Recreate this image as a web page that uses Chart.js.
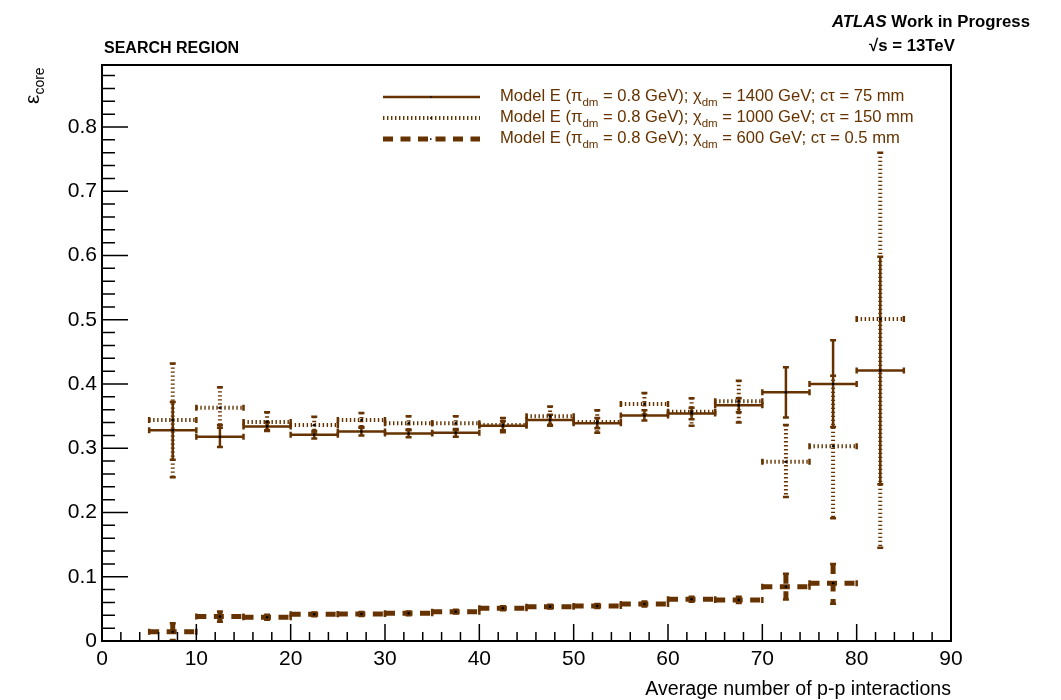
<!DOCTYPE html>
<html>
<head>
<meta charset="utf-8">
<script src="https://cdn.jsdelivr.net/npm/chart.js@4.4.0/dist/chart.umd.min.js"></script>
<style>
  body { margin: 0; background: #fff; font-family: "Liberation Sans", Arial, sans-serif; }
  #wrap { position: relative; width: 1061px; height: 700px; }
  #chart { position: absolute; left: 0; top: 0; }
  .txt { position: absolute; white-space: nowrap; color: #000; line-height: 1; }
  .leg { position: absolute; white-space: nowrap; color: #663300; font-size: 16.6px; line-height: 1; }
  .leg sub { font-size: 11.5px; vertical-align: -5px; line-height: 0; }
</style>
</head>
<body>
<div id="wrap">
  <canvas id="chart" width="1061" height="700"></canvas>

  <div class="txt" style="left:104px; top:40px; font-size:16px; font-weight:bold;">SEARCH REGION</div>
  <div class="txt" style="left:832px; top:14px; font-size:16.8px; font-weight:bold;"><i>ATLAS</i> Work in Progress</div>
  <div class="txt" style="left:869px; top:38px; font-size:16.8px; font-weight:bold;">√s = 13TeV</div>

  <div class="txt" style="left:21px; top:104px; font-size:21px; transform:rotate(-90deg); transform-origin:0 0;">ε<sub style="font-size:14px; vertical-align:-5px;">core</sub></div>
  <div class="txt" style="right:110px; top:679px; font-size:19.6px;">Average number of p-p interactions</div>

  <div class="leg" style="left:500px; top:88px;">Model E (π<sub>dm</sub> = 0.8 GeV); χ<sub>dm</sub> = 1400 GeV; cτ = 75 mm</div>
  <div class="leg" style="left:500px; top:109px;">Model E (π<sub>dm</sub> = 0.8 GeV); χ<sub>dm</sub> = 1000 GeV; cτ = 150 mm</div>
  <div class="leg" style="left:500px; top:130px;">Model E (π<sub>dm</sub> = 0.8 GeV); χ<sub>dm</sub> = 600 GeV; cτ = 0.5 mm</div>
</div>

<script>
// bins of average pile-up, width 5
const binCenters = [7.5, 12.5, 17.5, 22.5, 27.5, 32.5, 37.5, 42.5, 47.5, 52.5, 57.5, 62.5, 67.5, 72.5, 77.5, 82.5];
const binHalfWidth = 2.5;

// chi_dm = 1400 GeV, ctau = 75 mm
const eff1400 = [0.328, 0.318, 0.334, 0.321, 0.326, 0.323, 0.324, 0.335, 0.344, 0.339, 0.351, 0.354, 0.367, 0.387, 0.400, 0.421];
const err1400Up = [0.044, 0.018, 0.006, 0.006, 0.006, 0.006, 0.006, 0.007, 0.008, 0.008, 0.008, 0.009, 0.011, 0.039, 0.068, 0.177];
const err1400Dn = [0.046, 0.016, 0.006, 0.006, 0.006, 0.006, 0.006, 0.007, 0.008, 0.008, 0.008, 0.009, 0.011, 0.039, 0.067, 0.177];

// chi_dm = 1000 GeV, ctau = 150 mm
const eff1000 = [0.344, 0.363, 0.341, 0.336, 0.344, 0.339, 0.339, 0.336, 0.350, 0.341, 0.369, 0.357, 0.373, 0.279, 0.303, 0.501];
const err1000Up = [0.088, 0.032, 0.015, 0.013, 0.011, 0.011, 0.011, 0.011, 0.015, 0.018, 0.017, 0.021, 0.032, 0.057, 0.110, 0.259];
const err1000Dn = [0.089, 0.031, 0.014, 0.013, 0.011, 0.011, 0.011, 0.011, 0.015, 0.017, 0.017, 0.022, 0.033, 0.055, 0.112, 0.356];

// chi_dm = 600 GeV, ctau = 0.5 mm (no entry in last bin)
const eff600 = [0.0145, 0.038, 0.037, 0.0415, 0.042, 0.043, 0.0457, 0.051, 0.0535, 0.0545, 0.0576, 0.065, 0.064, 0.0845, 0.090];
const err600Up = [0.013, 0.008, 0.004, 0.003, 0.003, 0.003, 0.003, 0.003, 0.003, 0.003, 0.004, 0.004, 0.005, 0.020, 0.030];
const err600Dn = [0.013, 0.008, 0.004, 0.003, 0.003, 0.003, 0.003, 0.003, 0.003, 0.003, 0.004, 0.004, 0.005, 0.020, 0.032];

const xTicks = [0, 10, 20, 30, 40, 50, 60, 70, 80, 90];
const yTicks = [0, 0.1, 0.2, 0.3, 0.4, 0.5, 0.6, 0.7, 0.8];

const brown = '#663300';
const solidDash = [], dotDash = [1.4, 2.6], longDash = [10, 7.5];

function makeSet(label, vals, up, dn, dash, width) {
  return {
    label: label,
    data: vals.map((v, i) => ({ x: binCenters[i], y: v, up: up[i], dn: dn[i] })),
    showLine: false,
    pointRadius: 1.3,
    pointBackgroundColor: '#000',
    pointBorderWidth: 0,
    errDash: dash,
    errWidth: width
  };
}

// error crosses with end caps, ROOT style
const errorBars = {
  id: 'errorBars',
  beforeDatasetsDraw(chart) {
    const ctx = chart.ctx, xs = chart.scales.x, ys = chart.scales.y, a = chart.chartArea;
    ctx.save();
    ctx.beginPath();
    ctx.rect(a.left, a.top, a.right - a.left, a.bottom - a.top);
    ctx.clip();
    ctx.strokeStyle = brown;
    chart.data.datasets.forEach(ds => {
      ds.data.forEach(p => {
        const px = xs.getPixelForValue(p.x), py = ys.getPixelForValue(p.y);
        const x0 = xs.getPixelForValue(p.x - binHalfWidth), x1 = xs.getPixelForValue(p.x + binHalfWidth);
        const yTop = ys.getPixelForValue(p.y + p.up), yBot = ys.getPixelForValue(p.y - p.dn);
        ctx.lineWidth = ds.errWidth;
        ctx.lineCap = 'butt';
        ctx.setLineDash(ds.errDash);
        ctx.beginPath();
        ctx.moveTo(x0, py); ctx.lineTo(x1, py);
        ctx.moveTo(px, yTop); ctx.lineTo(px, yBot);
        ctx.stroke();
        // caps
        ctx.setLineDash([]);
        ctx.lineWidth = Math.min(ds.errWidth, 2.5);
        const c = 3;
        ctx.beginPath();
        ctx.moveTo(x0, py - c); ctx.lineTo(x0, py + c);
        ctx.moveTo(x1, py - c); ctx.lineTo(x1, py + c);
        ctx.moveTo(px - c, yTop); ctx.lineTo(px + c, yTop);
        ctx.moveTo(px - c, yBot); ctx.lineTo(px + c, yBot);
        ctx.stroke();
      });
    });
    ctx.restore();
  },
  afterDraw(chart) {
    const ctx = chart.ctx, xs = chart.scales.x, ys = chart.scales.y, a = chart.chartArea;
    ctx.save();
    // frame
    ctx.strokeStyle = '#000';
    ctx.lineWidth = 2;
    ctx.setLineDash([]);
    ctx.strokeRect(a.left, a.top, a.right - a.left, a.bottom - a.top);
    // inward ticks
    ctx.lineWidth = 1.5;
    ctx.beginPath();
    for (let v = 0; v <= 90.001; v += 2) {
      const px = xs.getPixelForValue(v);
      const len = Math.abs(v % 10) < 0.001 ? 17 : 9;
      ctx.moveTo(px, a.bottom); ctx.lineTo(px, a.bottom - len);
    }
    for (let v = 0; v <= ys.max + 1e-6; v += 0.02) {
      const py = ys.getPixelForValue(v);
      const major = Math.abs(Math.round(v * 50) % 5) === 0;
      ctx.moveTo(a.left, py); ctx.lineTo(a.left + (major ? 26 : 13), py);
    }
    ctx.stroke();

    // legend samples
    const leg = [
      { y: 97, dash: solidDash, w: 2.5 },
      { y: 118, dash: dotDash, w: 4 },
      { y: 139, dash: longDash, w: 5 }
    ];
    ctx.strokeStyle = brown;
    leg.forEach(l => {
      ctx.lineWidth = l.w;
      ctx.setLineDash(l.dash);
      ctx.beginPath();
      ctx.moveTo(383, l.y); ctx.lineTo(480, l.y);
      ctx.stroke();
      ctx.fillStyle = '#000';
      ctx.fillRect(430, l.y - 0.7, 1.5, 1.5);
    });
    ctx.restore();
  }
};

new Chart(document.getElementById('chart'), {
  type: 'scatter',
  data: {
    datasets: [
      makeSet('1400 GeV; 75 mm', eff1400, err1400Up, err1400Dn, solidDash, 2.5),
      makeSet('1000 GeV; 150 mm', eff1000, err1000Up, err1000Dn, dotDash, 4),
      makeSet('600 GeV; 0.5 mm', eff600, err600Up, err600Dn, longDash, 5)
    ]
  },
  options: {
    responsive: false,
    animation: false,
    layout: { padding: { left: 42, right: 110, top: 65, bottom: 0 } },
    plugins: { legend: { display: false }, tooltip: { enabled: false } },
    scales: {
      x: {
        type: 'linear',
        min: 0, max: 90,
        grid: { display: false, drawTicks: false },
        border: { display: false },
        afterBuildTicks: s => { s.ticks = xTicks.map(v => ({ value: v })); },
        afterFit: s => { s.height = 59; },
        ticks: {
          color: '#000', padding: 6,
          font: { family: '"Liberation Sans", Arial, sans-serif', size: 21 },
          maxRotation: 0,
          callback: v => String(v)
        }
      },
      y: {
        type: 'linear',
        min: 0, max: 0.8965,
        grid: { display: false, drawTicks: false },
        border: { display: false },
        afterBuildTicks: s => { s.ticks = yTicks.map(v => ({ value: v })); },
        afterFit: s => { s.width = 60; },
        ticks: {
          color: '#000', padding: 5,
          font: { family: '"Liberation Sans", Arial, sans-serif', size: 21 },
          callback: v => (Math.round(v * 10) / 10).toString()
        }
      }
    }
  },
  plugins: [errorBars]
});
</script>
</body>
</html>
